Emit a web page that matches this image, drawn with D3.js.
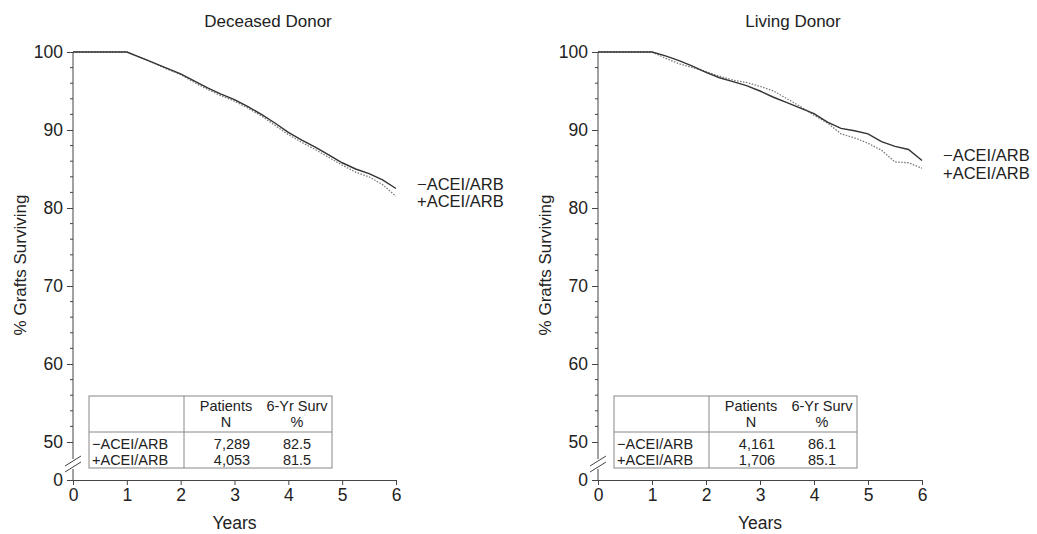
<!DOCTYPE html>
<html>
<head>
<meta charset="utf-8">
<script src="https://cdn.jsdelivr.net/npm/d3@7"></script>
<style>
  body { margin: 0; background: #fff; }
  svg { display: block; font-family: "Liberation Sans", Arial, Helvetica, sans-serif; }
</style>
</head>
<body>
<svg id="chart" width="1037" height="534"></svg>
<script>
// graft survival
var years = [0, 1, 1.25, 1.5, 1.75, 2, 2.25, 2.5, 2.75, 3, 3.25, 3.5, 3.75, 4, 4.25, 4.5, 4.75, 5, 5.25, 5.5, 5.75, 6];
var deceasedMinus = [100, 100, 99.3, 98.6, 97.9, 97.2, 96.3, 95.4, 94.6, 93.9, 93.0, 92.0, 90.9, 89.7, 88.7, 87.8, 86.8, 85.8, 85.0, 84.4, 83.6, 82.5];
var deceasedPlus  = [100, 100, 99.3, 98.6, 97.8, 97.1, 96.1, 95.2, 94.4, 93.7, 92.8, 91.8, 90.6, 89.4, 88.4, 87.5, 86.5, 85.5, 84.6, 84.0, 83.0, 81.5];
var livingMinus   = [100, 100, 99.5, 98.9, 98.2, 97.4, 96.7, 96.2, 95.7, 95.0, 94.2, 93.5, 92.8, 92.1, 91.0, 90.2, 89.9, 89.5, 88.5, 87.9, 87.5, 86.1];
var livingPlus    = [100, 100, 99.2, 98.5, 98.0, 97.5, 96.9, 96.4, 96.1, 95.6, 95.0, 94.0, 93.0, 91.9, 90.9, 89.5, 89.0, 88.3, 87.4, 85.9, 85.8, 85.1];

var groups = ["\u2212ACEI/ARB", "+ACEI/ARB"];
var deceasedN = ["7,289", "4,053"];
var deceasedSurv = ["82.5", "81.5"];
var livingN = ["4,161", "1,706"];
var livingSurv = ["86.1", "85.1"];

var xTicks = [0, 1, 2, 3, 4, 5, 6];
var yTicks = [0, 50, 60, 70, 80, 90, 100];
var yMinor = [52, 54, 56, 58, 62, 64, 66, 68, 72, 74, 76, 78, 82, 84, 86, 88, 92, 94, 96, 98];

var svg = d3.select("#chart");
var axisColor = "#444", textColor = "#222";

// 0..50 squeezed below the break, 50..100 stretched
var y = d3.scaleLinear().domain([0, 50, 100]).range([480, 442, 52]);

function drawPanel(x0, x1, title, minus, plus, nVals, survVals) {
    var x = d3.scaleLinear().domain([0, 6]).range([x0, x1]);
    var g = svg.append("g");

    g.append("text")
        .attr("x", x0 + 195).attr("y", 27)
        .attr("text-anchor", "middle")
        .attr("font-size", 17).attr("fill", textColor)
        .text(title);

    // x axis
    var xa = g.append("g").attr("transform", "translate(0,480)")
        .call(d3.axisBottom(x).tickValues(xTicks).tickFormat(d3.format("d"))
            .tickSize(5).tickSizeOuter(0).tickPadding(4));
    xa.select(".domain").attr("stroke", axisColor);
    xa.selectAll(".tick line").attr("stroke", axisColor);
    xa.selectAll(".tick text").attr("font-size", 17.5).attr("fill", textColor).attr("font-family", null);

    // y axis, drawn in two pieces around the break
    var ya = g.append("g").attr("transform", "translate(" + x0 + ",0)")
        .call(d3.axisLeft(y).tickValues(yTicks).tickFormat(d3.format("d"))
            .tickSize(6).tickSizeOuter(0).tickPadding(4));
    ya.select(".domain").remove();
    ya.selectAll(".tick line").attr("stroke", axisColor);
    ya.selectAll(".tick text").attr("font-size", 17.5).attr("fill", textColor).attr("font-family", null);
    g.selectAll(".minor").data(yMinor).enter().append("line")
        .attr("x1", x0 - 3).attr("x2", x0)
        .attr("y1", function(d) { return y(d); }).attr("y2", function(d) { return y(d); })
        .attr("stroke", axisColor);
    g.append("line").attr("x1", x0).attr("x2", x0).attr("y1", y(100)).attr("y2", 459).attr("stroke", axisColor);
    g.append("line").attr("x1", x0).attr("x2", x0).attr("y1", 469).attr("y2", 480).attr("stroke", axisColor);
    [0, 6].forEach(function(off) {
        g.append("line")
            .attr("x1", x0 - 8).attr("y1", 469 + off - 3)
            .attr("x2", x0 + 8).attr("y2", 459 + off - 3)
            .attr("stroke", axisColor).attr("stroke-width", 1);
    });

    g.append("text")
        .attr("transform", "translate(" + (x0 - 47) + ",265) rotate(-90)")
        .attr("text-anchor", "middle")
        .attr("font-size", 17).attr("fill", textColor)
        .text("% Grafts Surviving");

    g.append("text")
        .attr("x", (x0 + x1) / 2).attr("y", 529)
        .attr("text-anchor", "middle")
        .attr("font-size", 17.5).attr("fill", textColor)
        .text("Years");

    // survival curves
    var line = d3.line()
        .x(function(d) { return x(d[0]); })
        .y(function(d) { return y(d[1]); });

    g.append("path")
        .datum(d3.zip(years, plus))
        .attr("d", line)
        .attr("fill", "none").attr("stroke", "#777")
        .attr("stroke-width", 1.3).attr("stroke-dasharray", "1.5,1.5");
    g.append("path")
        .datum(d3.zip(years, minus))
        .attr("d", line)
        .attr("fill", "none").attr("stroke", "#333")
        .attr("stroke-width", 1.4);

    var ly = y(minus[minus.length - 1]) + 1;
    groups.forEach(function(t, i) {
        g.append("text")
            .attr("x", x1 + 21).attr("y", ly + i * 17.5)
            .attr("font-size", 16.5).attr("fill", textColor)
            .text(t);
    });

    // inset table
    var tl = x0 + 16, tr = x0 + 259, tt = 396, tb = 468;
    var tbl = g.append("g");
    tbl.append("rect")
        .attr("x", tl).attr("y", tt).attr("width", tr - tl).attr("height", tb - tt)
        .attr("fill", "#fff").attr("stroke", "#888");
    tbl.append("line").attr("x1", tl + 95).attr("x2", tl + 95).attr("y1", tt).attr("y2", tb).attr("stroke", "#888");
    tbl.append("line").attr("x1", tl).attr("x2", tr).attr("y1", 432).attr("y2", 432).attr("stroke", "#888");

    var c1 = tl + 137, c2 = tl + 208;
    var hdr = [[c1, 411, "Patients"], [c1, 427, "N"], [c2, 411, "6-Yr Surv"], [c2, 427, "%"]];
    hdr.forEach(function(h) {
        tbl.append("text").attr("x", h[0]).attr("y", h[1])
            .attr("text-anchor", "middle").attr("font-size", 14.5).attr("fill", textColor)
            .text(h[2]);
    });
    groups.forEach(function(t, i) {
        var by = 449 + i * 15.5;
        tbl.append("text").attr("x", tl + 3).attr("y", by)
            .attr("font-size", 14.5).attr("fill", textColor).text(t);
        tbl.append("text").attr("x", c1 + 6).attr("y", by).attr("text-anchor", "middle")
            .attr("font-size", 14.5).attr("fill", textColor).text(nVals[i]);
        tbl.append("text").attr("x", c2).attr("y", by).attr("text-anchor", "middle")
            .attr("font-size", 14.5).attr("fill", textColor).text(survVals[i]);
    });
}

drawPanel(73, 396, "Deceased Donor", deceasedMinus, deceasedPlus, deceasedN, deceasedSurv);
drawPanel(598, 922, "Living Donor", livingMinus, livingPlus, livingN, livingSurv);
</script>
</body>
</html>
